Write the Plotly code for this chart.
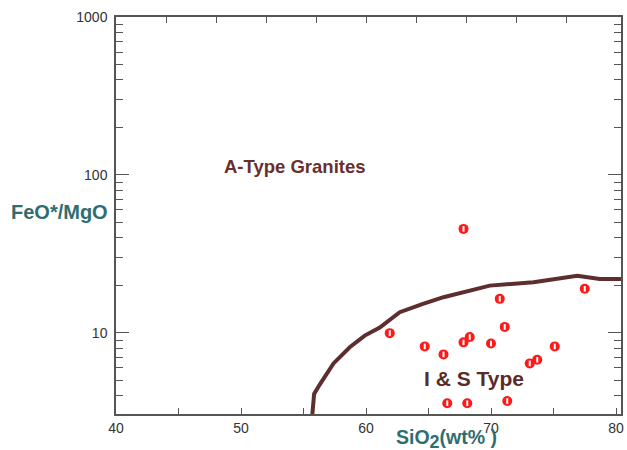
import math
import plotly.graph_objects as go

# Sample data
sio2 = [67.8, 77.5, 70.7, 71.1, 61.9, 68.3, 67.8, 64.7, 70.0, 75.1, 66.2, 73.7, 73.1, 66.5, 68.1, 71.3]
feo_mgo = [45.5, 19.0, 16.4, 10.9, 9.95, 9.4, 8.7, 8.2, 8.55, 8.2, 7.3, 6.75, 6.4, 3.58, 3.58, 3.7]

# Boundary line between A-type and I&S-type granites
bound_x = [55.7, 55.85, 56.3, 57.4, 58.7, 59.9, 61.1, 62.7, 64.5, 66.2, 69.9, 73.4, 76.9, 78.7, 80.4]
bound_y = [3.0, 4.1, 4.7, 6.4, 8.1, 9.6, 10.8, 13.5, 15.2, 16.8, 19.9, 20.9, 23.0, 21.9, 21.9]

x_labels = [40, 50, 60, 70, 80]
x_minor = [45, 55, 65, 75]
x_top_ticks = [44, 48, 52, 56, 60, 64, 68, 72, 76]
y_major = [10, 100, 1000]
y_minor = [4, 5, 6, 7, 8, 9, 20, 30, 40, 50, 60, 70, 80, 90, 200, 300, 400, 500, 600, 700, 800, 900]
x_range = [40, 80.4]
y_range = [3.06, 1000]

label_font = "Liberation Sans, Arial, sans-serif"
teal = "#2f6e70"
brown = "#5b2b2b"
axis_col = "#555555"

fig = go.Figure()

fig.add_trace(go.Scatter(
    x=bound_x, y=bound_y, mode="lines",
    line=dict(color="#5e2d2d", width=4),
    hoverinfo="skip", showlegend=False,
))

fig.add_trace(go.Scatter(
    x=sio2, y=feo_mgo, mode="markers",
    marker=dict(symbol="circle", size=10, color="#ff1a1a", line=dict(width=0)),
    showlegend=False,
))
fig.add_trace(go.Scatter(
    x=sio2, y=feo_mgo, mode="markers",
    marker=dict(symbol="line-ns-open", size=4, color="white", line=dict(width=2, color="white")),
    hoverinfo="skip", showlegend=False,
))

# invisible trace to hold the top axis
fig.add_trace(go.Scatter(
    x=x_range, y=[y_range[0], y_range[0]], xaxis="x2", mode="lines",
    line=dict(width=0), hoverinfo="skip", showlegend=False,
))

fig.update_layout(
    width=627, height=450,
    margin=dict(l=116, r=6, t=17, b=36),
    paper_bgcolor="white", plot_bgcolor="white",
    font=dict(family=label_font, size=14, color="#333333"),
    xaxis=dict(
        range=x_range, tickvals=x_labels,
        ticks="inside", ticklen=6, tickcolor=axis_col, tickwidth=1,
        minor=dict(tickvals=x_minor, ticks="inside", ticklen=6, tickcolor=axis_col, showgrid=False),
        showline=True, linecolor=axis_col, linewidth=1.5, mirror=True,
        showgrid=False, zeroline=False, automargin=False,
        tickfont=dict(size=14, color="#333333"),
    ),
    xaxis2=dict(
        range=x_range, overlaying="x", side="top", anchor="y",
        tickvals=x_top_ticks,
        ticks="inside", ticklen=6, tickcolor=axis_col, automargin=False,
        showticklabels=False, showgrid=False, zeroline=False, showline=False,
    ),
    yaxis=dict(
        type="log", range=[math.log10(y_range[0]), math.log10(y_range[1])],
        tickvals=y_major, ticktext=["10", "100", "1000"],
        ticks="inside", ticklen=13, tickcolor=axis_col, tickwidth=1,
        minor=dict(tickvals=y_minor, ticks="inside", ticklen=7, tickcolor=axis_col, showgrid=False),
        showline=True, linecolor=axis_col, linewidth=1.5, mirror="ticks",
        showgrid=False, zeroline=False, automargin=False,
        ticklabelstandoff=4,
        tickfont=dict(size=14, color="#333333"),
    ),
    annotations=[
        dict(text="<b>FeO*/MgO</b>", xref="paper", yref="y", x=-0.012, y=math.log10(57.8),
             xanchor="right", yanchor="middle", showarrow=False,
             font=dict(family=label_font, size=20, color=teal)),
        dict(text="<b>SiO<sub><span style='font-size:18px'>2</span></sub>(wt% )</b>",
             xref="x", yref="paper", x=66.4, y=-0.026,
             xanchor="center", yanchor="top", showarrow=False,
             font=dict(family=label_font, size=19.5, color=teal)),
        dict(text="<b>A-Type Granites</b>", xref="x", yref="y", x=54.3, y=math.log10(113),
             xanchor="center", yanchor="middle", showarrow=False,
             font=dict(family=label_font, size=18.5, color="#6a2e2e")),
        dict(text="<b>I &amp; S Type</b>", xref="x", yref="y", x=68.6, y=math.log10(5.13),
             xanchor="center", yanchor="middle", showarrow=False,
             font=dict(family=label_font, size=21, color=brown)),
    ],
)

fig.write_html("out.html", config={"displayModeBar": False},
               post_script="document.body.style.margin='0';")
